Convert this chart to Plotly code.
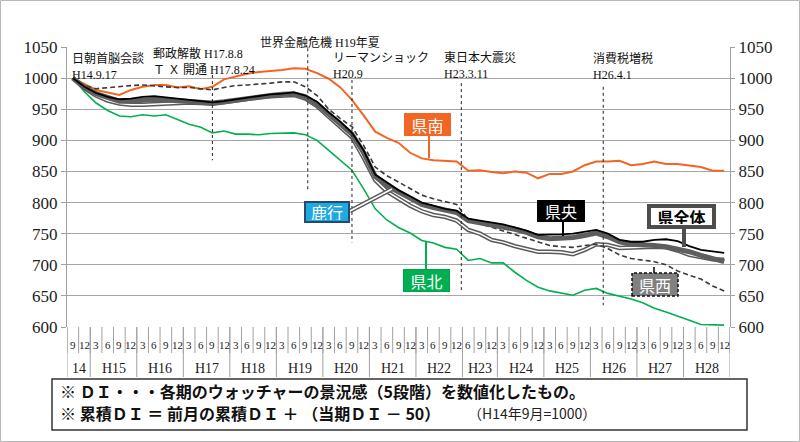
import plotly.graph_objects as go

# ---------------- data ----------------
year_labels = ["14", "H15", "H16", "H17", "H18", "H19", "H20", "H21",
               "H22", "H23", "H24", "H25", "H26", "H27", "H28"]
year_months = [[9, 12], [3, 6, 9, 12], [3, 6, 9, 12], [3, 6, 9, 12],
               [3, 6, 9, 12], [3, 6, 9, 12], [3, 6, 9, 12], [3, 6, 9, 12],
               [3, 6, 9, 12], [6, 9, 12], [3, 6, 9, 12], [3, 6, 9, 12],
               [3, 6, 9, 12], [3, 6, 9, 12], [3, 6, 9, 12]]
month_labels = [str(m) for ms in year_months for m in ms]

kenpoku = [1000, 978, 960, 948, 939, 938, 941, 939, 941, 933,
           926, 921, 912, 915, 910, 910, 909, 911, 912, 912,
           909, 900, 884, 868, 852, 822, 790, 772, 760, 751,
           739, 735, 728, 725, 707, 710, 703, 703, 688, 675,
           664, 658, 654, 651, 659, 662, 654, 650, 645, 639,
           630, 624, 618, 611, 604, 603, 603]
kennan = [1000, 990, 981, 977, 973, 981, 986, 989, 989, 985,
          987, 982, 986, 998, 1003, 1007, 1010, 1011, 1013, 1016,
          1015, 1008, 999, 985, 965, 940, 914, 904, 896, 880,
          871, 868, 867, 866, 851, 852, 849, 847, 850, 848,
          839, 846, 846, 850, 860, 866, 866, 867, 860, 862,
          866, 862, 862, 859, 857, 851, 851]
kenou = [1000, 986, 976, 970, 966, 967, 970, 971, 969, 967,
         965, 963, 961, 963, 966, 969, 971, 974, 975, 977,
         972, 962, 945, 930, 912, 884, 845, 833, 820, 810,
         800, 795, 790, 787, 774, 771, 768, 765, 760, 755,
         748, 748, 749, 750, 753, 756, 750, 740, 737, 737,
         740, 741, 738, 730, 724, 721, 719]
kenzentai = [1000, 985, 975, 968, 963, 963, 965, 966, 965, 964,
             963, 961, 960, 962, 965, 968, 970, 972, 974, 975,
             970, 958, 942, 927, 910, 880, 842, 827, 817, 807,
             797, 792, 787, 784, 771, 768, 765, 762, 757, 752,
             745, 742, 742, 744, 747, 751, 745, 737, 733, 733,
             731, 729, 726, 721, 715, 710, 705]
rokkou = [1000, 984, 972, 964, 959, 957, 957, 958, 960, 961,
          961, 960, 959, 961, 964, 967, 969, 971, 972, 973,
          967, 955, 938, 922, 905, 872, 836, 818, 806, 795,
          786, 780, 777, 771, 756, 750, 740, 736, 730, 725,
          721, 721, 720, 717, 724, 733, 732, 727, 728, 729,
          729, 728, 723, 716, 712, 709, 708]
kensei = [1000, 988, 983, 985, 986, 988, 989, 987, 986, 985,
          985, 983, 981, 985, 988, 989, 990, 992, 994, 994,
          986, 972, 950, 935, 922, 892, 857, 843, 833, 822,
          812, 806, 802, 797, 772, 766, 761, 755, 749, 743,
          737, 731, 729, 728, 731, 733, 726, 716, 710, 708,
          705, 700, 690, 683, 677, 666, 658]

y_ticks = [600, 650, 700, 750, 800, 850, 900, 950, 1000, 1050]

# events: text, x (category index), y range of the dashed marker line
event_texts = ["日朝首脳会談<br>H14.9.17",
               "郵政解散 H17.8.8<br>Ｔ Ｘ 開通 H17.8.24",
               "世界金融危機 H19年夏",
               "リーマンショック<br>H20.9",
               "東日本大震災<br>H23.3.11",
               "消費税増税<br>H26.4.1"]
event_x = [None, 12, 20.2, 24, 33.4, 45.6]
event_y0 = [None, 1005, 1048, 997, 992, 986]
event_y1 = [None, 868, 817, 736, 659, 635]

# ---------------- layout helpers ----------------
W, H = 800, 442
L, R, T, B = 67, 730, 47, 327
PW, PH = R - L, B - T


def X(px):
    return (px - L) / PW


def Y(py):
    return (B - py) / PH


n = len(month_labels)
x_idx = list(range(n))

serif = "Liberation Serif, Noto Sans CJK JP"
gothic = "Noto Sans CJK JP"

fig = go.Figure()


def add_line(y, color, width, dash="solid", name=""):
    fig.add_trace(go.Scatter(x=x_idx, y=y, mode="lines", name=name,
                             line=dict(color=color, width=width, dash=dash),
                             hoverinfo="skip", showlegend=False))


add_line(kenpoku, "#00b050", 1.6, name="県北")
add_line(kennan, "#f26522", 2, name="県南")
add_line(rokkou, "#5a5a5a", 4.5, name="鹿行")
add_line(rokkou, "#ffffff", 1.5, name="鹿行")
add_line(kensei, "#3a3a3a", 1.6, dash="5px,3px", name="県西")
add_line(kenzentai, "#5e5e5e", 5, name="県全体")
add_line(kenou, "#000000", 1.8, name="県央")

# invisible trace to carry the right axis
fig.add_trace(go.Scatter(x=x_idx, y=kenzentai, yaxis="y2", mode="lines",
                         line=dict(width=0, color="rgba(0,0,0,0)"),
                         hoverinfo="skip", showlegend=False))

shapes = []
annotations = []

# event dashed lines
for ex, y0, y1 in zip(event_x, event_y0, event_y1):
    if ex is None:
        continue
    shapes.append(dict(type="line", xref="x", yref="y", x0=ex, x1=ex,
                       y0=y0, y1=y1,
                       line=dict(color="#222", width=1, dash="3px,3px")))

# event texts (left px, top px)
ev_pos = [(70, 50), (151, 44), (258, 34), (331, 49), (442, 49), (591, 49)]
for txt, (px, py) in zip(event_texts, ev_pos):
    annotations.append(dict(text=txt, xref="paper", yref="paper",
                            x=X(px), y=Y(py), xanchor="left", yanchor="top",
                            showarrow=False, align="left",
                            font=dict(family=serif, size=12, color="#111")))

# x-axis two-level category labels
month_sep_h = 26 / PH
year_sep_h = 50 / PH
for i, lab in enumerate(month_labels):
    annotations.append(dict(text=lab, xref="x", yref="paper", x=i, y=0,
                            yanchor="middle", yshift=-18, showarrow=False,
                            font=dict(family=serif, size=11, color="#222")))
for b in range(n + 1):
    shapes.append(dict(type="line", xref="x", yref="paper", x0=b - 0.5,
                       x1=b - 0.5, y0=0, y1=-month_sep_h,
                       line=dict(color="#a0a0a0", width=1)))
start = 0
for lab, ms in zip(year_labels, year_months):
    end = start + len(ms)
    annotations.append(dict(text=lab, xref="x", yref="paper",
                            x=(start + end - 1) / 2, y=0, yanchor="middle",
                            yshift=-41, showarrow=False,
                            font=dict(family=serif, size=14, color="#222")))
    shapes.append(dict(type="line", xref="x", yref="paper", x0=end - 0.5,
                       x1=end - 0.5, y0=0, y1=-year_sep_h,
                       line=dict(color="#a0a0a0", width=1)))
    start = end
shapes.append(dict(type="line", xref="x", yref="paper", x0=-0.5, x1=-0.5,
                   y0=0, y1=-year_sep_h, line=dict(color="#a0a0a0", width=1)))


# series label boxes
def box(text, cx, cy, w, h, bg, border, bw, color="white", bold=False):
    t = f"<b>{text}</b>" if bold else text
    annotations.append(dict(text=t, xref="paper", yref="paper",
                            x=X(cx), y=Y(cy), xanchor="center",
                            yanchor="middle", showarrow=False,
                            width=w, height=h, bgcolor=bg,
                            bordercolor=border, borderwidth=bw, borderpad=1,
                            font=dict(family=gothic, size=16, color=color)))


def conn(x0, y0, x1, y1, color, width):
    shapes.append(dict(type="line", xref="paper", yref="paper",
                       x0=X(x0), y0=Y(y0), x1=X(x1), y1=Y(y1),
                       line=dict(color=color, width=width)))


# connectors
conn(429, 135, 429, 158, "#f26522", 2)
conn(426, 242, 426, 269, "#00b050", 2)
conn(563, 222, 563, 236, "#000000", 2)
conn(684, 229, 684, 247, "#4d4d4d", 4)
conn(654, 267, 654, 273, "#404040", 2)
conn(350, 211, 392, 189, "#5a5a5a", 4.5)
conn(350, 211, 392, 189, "#ffffff", 1.5)

box("県南", 427.5, 124, 43, 19, "#f26522", "#f26522", 1)
box("鹿行", 327, 212, 40, 16, "#1fa9e1", "#274a6b", 2)
box("県北", 426.5, 280.5, 43, 19, "#00b050", "#00a347", 1)
box("県央", 561, 211, 44, 18, "#000000", "#000000", 1)
box("県全体", 681.5, 216.5, 59, 15, "#ffffff", "#4d4d4d", 4,
    color="#000", bold=True)

# 県西 dashed box
shapes.append(dict(type="rect", xref="paper", yref="paper",
                   x0=X(632), x1=X(678), y0=Y(296), y1=Y(273),
                   fillcolor="#808080",
                   line=dict(color="#111", width=1.5, dash="3px,2px")))
annotations.append(dict(text="県西", xref="paper", yref="paper",
                        x=X(655), y=Y(284.5), xanchor="center",
                        yanchor="middle", showarrow=False,
                        font=dict(family=gothic, size=16, color="white")))

# bottom note box
shapes.append(dict(type="rect", xref="paper", yref="paper",
                   x0=X(52), x1=X(747), y0=Y(430), y1=Y(379),
                   line=dict(color="#333", width=1.5)))
annotations.append(dict(
    text="<b>※ ＤＩ・・・各期のウォッチャーの景況感（5段階）を数値化したもの。</b>",
    xref="paper", yref="paper", x=X(58), y=Y(391), xanchor="left",
    yanchor="middle", showarrow=False,
    font=dict(family=gothic, size=16, color="#111")))
annotations.append(dict(
    text="<b>※ 累積ＤＩ ＝ 前月の累積ＤＩ ＋ （当期ＤＩ － 50）</b>",
    xref="paper", yref="paper", x=X(58), y=Y(413), xanchor="left",
    yanchor="middle", showarrow=False,
    font=dict(family=gothic, size=16, color="#111")))
annotations.append(dict(
    text="（H14年9月=1000）",
    xref="paper", yref="paper", x=X(466), y=Y(413), xanchor="left",
    yanchor="middle", showarrow=False,
    font=dict(family=gothic, size=14, color="#222")))

# outer image border
shapes.append(dict(type="rect", xref="paper", yref="paper",
                   x0=X(0.5), x1=X(W - 0.5), y0=Y(H - 0.5), y1=Y(0.5),
                   line=dict(color="#b8b8b8", width=1)))

axis_font = dict(family=serif, size=17, color="#222")
fig.update_layout(
    width=W, height=H,
    margin=dict(l=L, r=W - R, t=T, b=H - B),
    paper_bgcolor="white", plot_bgcolor="white",
    showlegend=False,
    xaxis=dict(range=[-0.5, n - 0.5], showticklabels=False, showgrid=False,
               zeroline=False, showline=False, ticks=""),
    yaxis=dict(range=[600, 1050], tickvals=y_ticks, showgrid=True,
               gridcolor="#a6a6a6", gridwidth=1, zeroline=False,
               showline=True, linecolor="#a0a0a0", linewidth=1,
               ticks="outside", ticklen=5, tickcolor="#a0a0a0",
               tickfont=axis_font),
    yaxis2=dict(range=[600, 1050], tickvals=y_ticks, overlaying="y",
                side="right", showgrid=False, zeroline=False,
                showline=True, linecolor="#a0a0a0", linewidth=1,
                ticks="outside", ticklen=4, tickcolor="#a0a0a0",
                tickfont=axis_font),
    shapes=shapes, annotations=annotations,
)

fig.write_html("out.html",
               config={"displayModeBar": False},
               post_script="document.body.style.margin='0px';"
                           "document.body.style.padding='0px';")
